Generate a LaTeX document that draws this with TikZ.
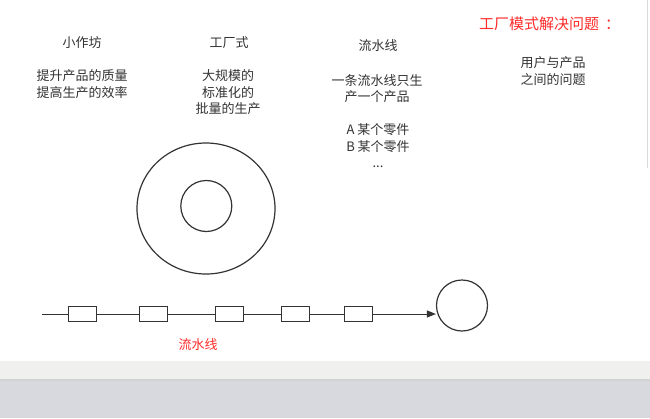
\documentclass[tikz,border=0pt]{standalone}
\usepackage{fontspec}
\setmainfont{Noto Sans CJK SC}
\usepackage{xcolor}
\definecolor{Ink}{HTML}{333333}
\definecolor{Alert}{HTML}{FF2A2A}
\definecolor{Band}{HTML}{F0F0EF}
\definecolor{Shade}{HTML}{D8D9DE}
\definecolor{Edge}{HTML}{DADADA}
\usepackage{tikz}
\usetikzlibrary{positioning,arrows.meta}

\begin{document}
\begin{tikzpicture}[x=1pt,y=-1pt,
 txt/.style={text=Ink,font=\fontsize{13}{16.5}\selectfont,align=center,inner sep=0pt},
 part/.style={draw=Ink,line width=1pt,fill=white,minimum width=28pt,minimum height=15pt,inner sep=0pt},
 ring/.style={draw=Ink,line width=1.2pt,circle,inner sep=0pt}]
\useasboundingbox (0,0) rectangle (650,418);
% page and bottom bar
\fill[white] (0,0) rectangle (650,361);
\fill[Band] (0,361) rectangle (650,379);
\fill[gray!35] (0,379) rectangle (650,381);
\fill[Shade] (0,381) rectangle (650,418);
\draw[Edge,line width=1pt] (647.5,0) -- (647.5,168);
% headings and notes
\node[txt] (shop) at (82,42.5) {小作坊};
\node[txt] (shopnote) at (82,84.3) {提升产品的质量\\提高生产的效率};
\node[txt] (fac) at (229,42.5) {工厂式};
\node[txt] (facnote) at (228,92.5) {大规模的\\标准化的\\批量的生产};
\node[txt] (line) at (378,46) {流水线};
\node[txt] (linenote) at (377,88.5) {一条流水线只生\\产一个产品};
\node[txt] (parts) at (378,146) {A 某个零件\\B 某个零件\\...};
\node[txt] (usr) at (553,70.8) {用户与产品\\之间的问题};
\node[text=Alert,font=\fontsize{15}{18}\selectfont,anchor=west,inner sep=0pt] (goal) at (479,23.5) {工厂模式解决问题\kern6pt：};
% rings
\draw[Ink,line width=1.2pt] (206,208.5) ellipse [x radius=69pt,y radius=65.5pt];
\node[ring,minimum size=51pt] (core) at (206.3,206) {};
% pipeline
\coordinate (src) at (42,314);
\foreach \n/\x in {1/82.5,2/153.5,3/229.5,4/295.5,5/358.5} \node[part] (b\n) at (\x,314) {};
\node[ring,minimum size=51pt] (prod) at (462,305.5) {};
\draw[Ink,line width=1pt] (src) -- (b1) -- (b2) -- (b3) -- (b4) -- (b5);
\draw[Ink,line width=1pt,-{Triangle[length=9pt,width=7pt]}] (b5) -- (b5 -| prod.west);
\node[text=Alert,font=\fontsize{13}{16}\selectfont,inner sep=0pt] (flow) at (198,345) {流水线};
\end{tikzpicture}
\end{document}
